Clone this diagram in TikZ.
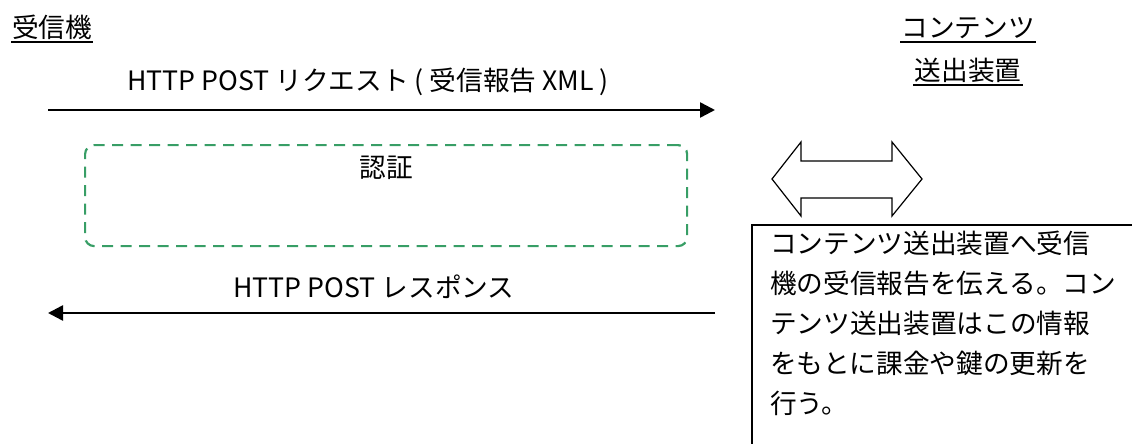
\documentclass[tikz,border=0pt]{standalone}
\usepackage{fontspec}
\setmainfont{Noto Sans CJK JP}
\usetikzlibrary{arrows.meta,calc}
\definecolor{authgreen}{RGB}{56,158,102}
\begin{document}
\begin{tikzpicture}[x=1pt,y=-1pt,
  lbl/.style={inner sep=0pt, font=\fontsize{26.67}{40}\selectfont},
  msg/.style={line width=2.5pt,-{Triangle[length=15pt,width=15pt]}},
  uline/.style={line width=1.6pt},
  authbox/.style={draw=authgreen, line width=2.2pt, dash pattern=on 11pt off 7.5pt, rounded corners=9pt},
  outline/.style={draw=black, line width=1.2pt}]
\useasboundingbox (0,0) rectangle (1132,444);
% headings
\node[lbl,anchor=base west] (recv) at (12,38) {受信機};
\draw[uline] ($(recv.base west)+(-1,4)$) -- ($(recv.base east)+(1,4)$);
\node[lbl,anchor=base] (cs1) at (968,38) {コンテンツ};
\draw[uline] ($(cs1.base west)+(-1,4)$) -- ($(cs1.base east)+(1,4)$);
\node[lbl,anchor=base] (cs2) at (968,81) {送出装置};
\draw[uline] ($(cs2.base west)+(-1,4)$) -- ($(cs2.base east)+(1,4)$);
% request
\node[lbl,anchor=base] (reqlbl) at (368,90) {HTTP POST リクエスト ( 受信報告 XML )};
\coordinate (reqL) at (48,110);
\coordinate (reqR) at (715,110);
\draw[msg] (reqL) -- (reqR);
% authentication
\node[authbox, minimum width=602pt, minimum height=101pt, anchor=north west, inner sep=0pt] (auth) at (84,144) {};
\node[lbl,anchor=base] (authlbl) at ($(auth.north)+(0,33)$) {認証};
% response
\node[lbl,anchor=base] (reslbl) at (374,297) {HTTP POST レスポンス};
\coordinate (resR) at (715,313);
\coordinate (resL) at (48,313);
\draw[msg] (resR) -- (resL);
% double arrow
\draw[outline, line join=miter] (772,179) -- (801,142) -- (801,161) -- (892,161) -- (892,142) -- (922,179)
  -- (892,216) -- (892,198) -- (801,198) -- (801,216) -- cycle;
% description box
\draw[outline] (752,460) -- (752,225) -- (1150,225);
\node[lbl,anchor=north west,align=left] (desc) at (770,231) {コンテンツ送出装置へ受信\\機の受信報告を伝える。コン\\テンツ送出装置はこの情報\\をもとに課金や鍵の更新を\\行う。};
\end{tikzpicture}
\end{document}
